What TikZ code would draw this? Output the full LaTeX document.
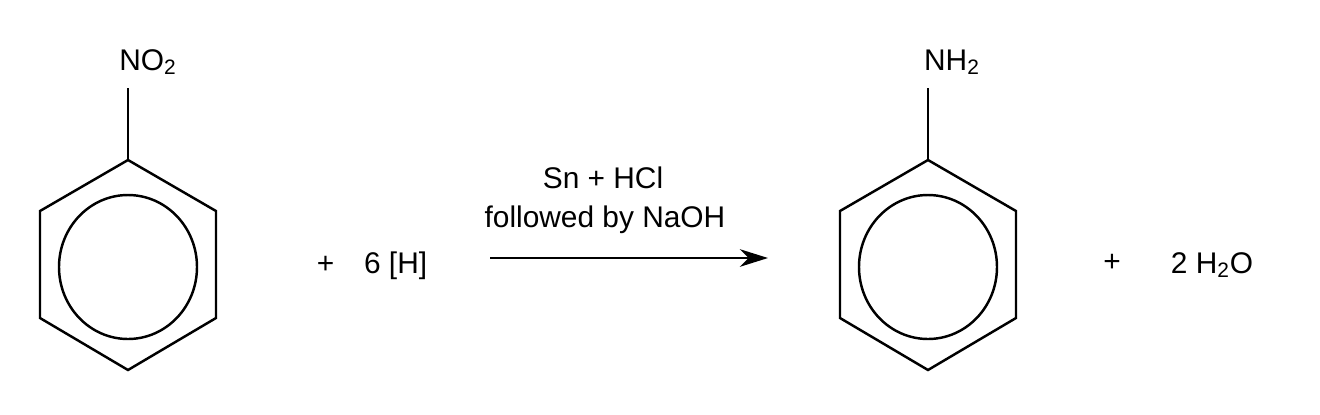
\documentclass[tikz,border=0pt]{standalone}
\usepackage{fontspec}
\setmainfont{Liberation Sans}
\usetikzlibrary{arrows.meta}
\begin{document}
\begin{tikzpicture}[x=0.02cm,y=-0.02cm,line width=1.4pt,
  lbl/.style={font=\fontsize{17}{20}\selectfont,inner sep=0pt}]
\useasboundingbox (0,0) rectangle (1320,414);
\foreach \cx/\nm in {128/a,928/b}{
  \draw (\cx,160) -- (\cx+88,211) -- (\cx+88,318) -- (\cx,370) -- (\cx-88,318) -- (\cx-88,211) -- cycle;
  \draw (\cx,267) ellipse [x radius=69,y radius=72];
  \coordinate (\nm top) at (\cx,160);
  \coordinate (\nm sub) at (\cx,88);
  \draw (\nm top) -- (\nm sub);
}
\node[lbl] (no2) at (148,62) {NO\textsubscript{2}};
\node[lbl] (nh2) at (952,62) {NH\textsubscript{2}};
\node[lbl] (h) at (372,266) {+\quad 6 [H]};
\coordinate (as) at (490,258);
\coordinate (ae) at (768,258);
\draw[-{Stealth[length=16pt,width=10pt,inset=5pt]}] (as) -- (ae);
\node[lbl] (c1) at (603,178) {Sn + HCl};
\node[lbl] (c2) at (605,220) {followed by NaOH};
\node[lbl] (p) at (1112,263) {+};
\node[lbl] (w) at (1212,265) {2 H\textsubscript{2}O};
\end{tikzpicture}
\end{document}
